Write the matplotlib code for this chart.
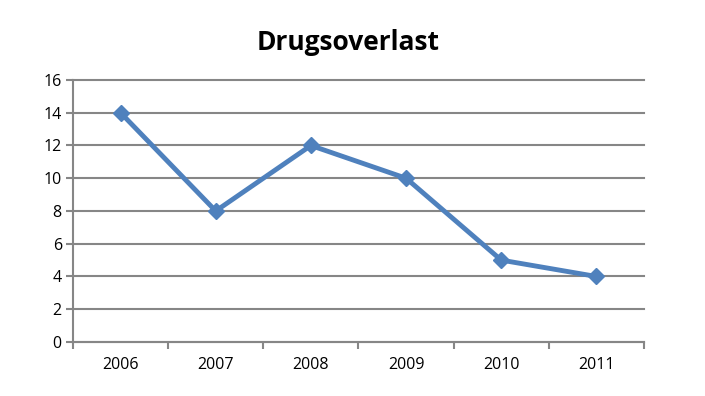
import matplotlib.pyplot as plt
import numpy as np

plt.rcParams['font.family'] = ['Open Sans', 'DejaVu Sans']

# Data
years = ['2006', '2007', '2008', '2009', '2010', '2011']
values = [14, 8, 12, 10, 5, 4]

fig = plt.figure(figsize=(7.05, 3.96), dpi=100)
ax = fig.add_axes([0.1035, 0.1364, 0.81, 0.6616])

x = np.arange(len(years)) + 0.5
ax.plot(x, values, color='#4F81BD', linewidth=3.5, marker='D', markersize=8,
        markeredgecolor='#4F81BD', markerfacecolor='#4F81BD', zorder=3)

ax.set_xlim(0, len(years))
ax.set_ylim(0, 16)
ax.set_yticks(range(0, 17, 2))
ax.yaxis.grid(True, color='#868686', linewidth=1.5)
ax.set_axisbelow(True)
for gl in ax.get_ygridlines():
    gl.set_clip_on(False)

# category boundaries as major ticks, labels at the centres
ax.set_xticks(range(0, len(years) + 1))
ax.set_xticklabels([])
ax.set_xticks(x, minor=True)
ax.set_xticklabels(years, minor=True)
ax.tick_params(axis='x', which='minor', length=0, pad=11, labelsize=11.5)
ax.tick_params(axis='x', which='major', length=5, width=1.5, color='#868686', direction='out')
ax.tick_params(axis='y', length=5, width=1.5, color='#868686', labelsize=11.5, pad=3)

for side in ['top', 'right']:
    ax.spines[side].set_visible(False)
for side in ['left', 'bottom']:
    ax.spines[side].set_color('#868686')
    ax.spines[side].set_linewidth(1.5)

fig.text(0.494, 0.893, 'Drugsoverlast', ha='center', va='center',
         fontsize=19, fontweight='bold')

plt.savefig('out.png', dpi=100)
